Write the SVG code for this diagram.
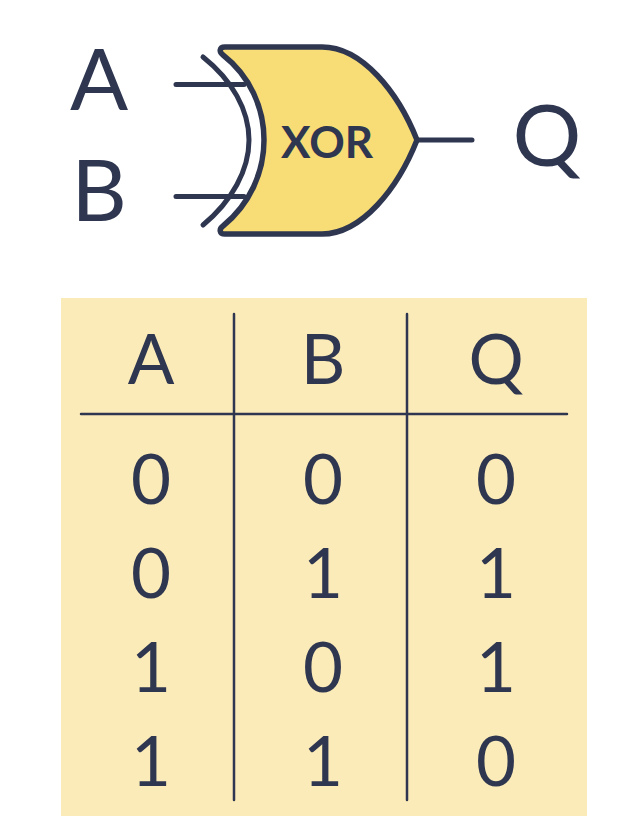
<svg xmlns="http://www.w3.org/2000/svg" width="642" height="830" viewBox="0 0 642 830">
<style>
.t{font-family:"Lato","Noto Sans","Liberation Sans",sans-serif;fill:#2f3650;text-anchor:middle}
.big{font-size:86px;font-weight:400}
.cell{font-size:69px;font-weight:400}
.head{font-size:69px;font-weight:400}
.l{fill:none;stroke:#2f3650;stroke-linecap:round;stroke-linejoin:round}
</style>
<rect width="642" height="830" fill="#fff"/>
<g id="gate">
<path d="M225 47H322C362 47 398 92 417 140C398 188 362 234 322 234H225C219 234 219 229 223 226C250 204 264 172 264 140C264 108 250 76 223 55C219 52 219 47 225 47Z" fill="#f8dc75" stroke="#2f3650" stroke-width="5.5" stroke-linejoin="round"/>
<text class="t" x="327" y="158" style="font-size:44px;font-weight:700">XOR</text>
</g>
<g id="connectors">
<path class="l" stroke-width="5" d="M203 57C232 80 249 110 249 140C249 170 232 201 203 225"/>
<path class="l" stroke-width="5" d="M176 84.500H244M176 196.500H244M417 140H472"/>
</g>
<g id="labels">
<text class="t big" x="99" y="110">A</text>
<text class="t big" x="99" y="221">B</text>
<text class="t big" x="547" y="166">Q</text>
</g>
<g id="table">
<rect x="61" y="298" width="526" height="518" fill="#fbebb8"/>
<path class="l" stroke-width="2.500" d="M81 414H567M234 314V800M407 314V800"/>
<text class="t head" x="151" y="384">A</text><text class="t head" x="323" y="384">B</text><text class="t head" x="496" y="384">Q</text>
<text class="t cell" x="151" y="504">0</text><text class="t cell" x="323" y="504">0</text><text class="t cell" x="496" y="504">0</text>
<text class="t cell" x="151" y="598">0</text><text class="t cell" x="323" y="598">1</text><text class="t cell" x="496" y="598">1</text>
<text class="t cell" x="151" y="692">1</text><text class="t cell" x="323" y="692">0</text><text class="t cell" x="496" y="692">1</text>
<text class="t cell" x="151" y="786">1</text><text class="t cell" x="323" y="786">1</text><text class="t cell" x="496" y="786">0</text>
</g>
</svg>
